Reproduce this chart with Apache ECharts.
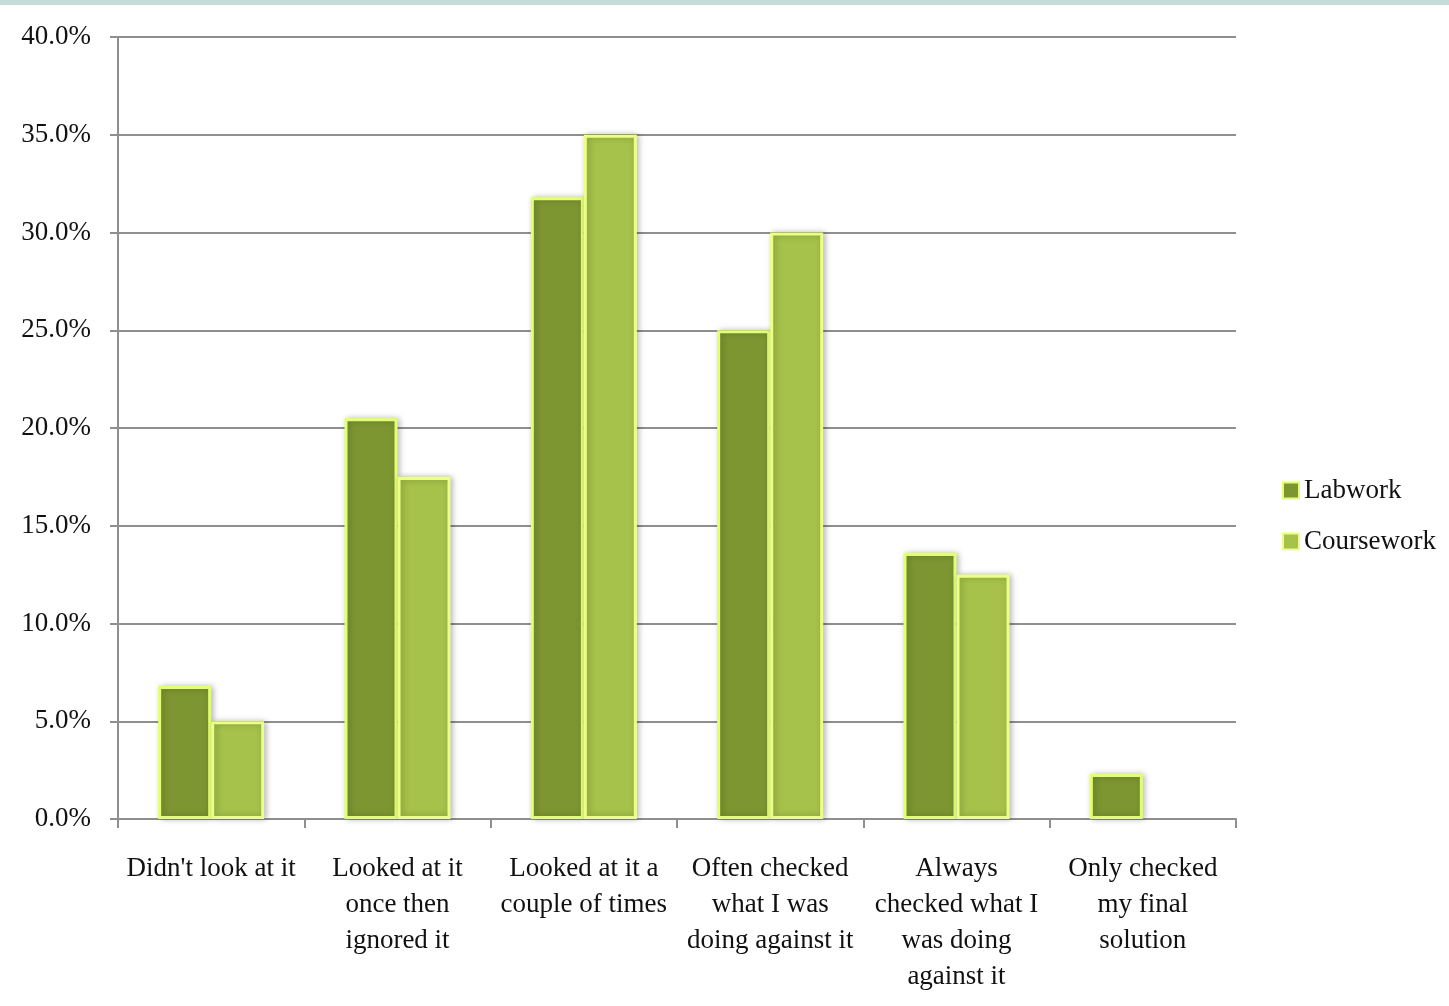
<!DOCTYPE html>
<html>
<head>
<meta charset="utf-8">
<script src="https://cdn.jsdelivr.net/npm/echarts@6/dist/echarts.min.js"></script>
<style>
  html, body { margin: 0; padding: 0; background: #fff; }
  .topband { position: absolute; left: 0; top: 0; width: 1449px; height: 5px; background: #c6dcdb; }
  #chart { width: 1449px; height: 1006px; }
</style>
</head>
<body>
<div class="topband"></div>
<div id="chart"></div>
<script>
var categories = [
  "Didn't look at it",
  'Looked at it\nonce then\nignored it',
  'Looked at it a\ncouple of times',
  'Often checked\nwhat I was\ndoing against it',
  'Always\nchecked what I\nwas doing\nagainst it',
  'Only checked\nmy final\nsolution'
];
var labwork = [6.8, 20.5, 31.8, 25.0, 13.6, 2.3];
var coursework = [5.0, 17.5, 35.0, 30.0, 12.5, 0];

var font = 'Liberation Serif';
var fontSize = 27;
var gridGray = '#8f8f8f';

var chart = echarts.init(document.getElementById('chart'));

function barStyle(fill, edge) {
  return {
    color: fill,
    borderColor: edge,
    borderWidth: 3,
    shadowColor: 'rgba(0,0,0,0.25)',
    shadowBlur: 6,
    shadowOffsetX: 2
  };
}

// zero-height bars should not leave a visible border line
function toItems(values) {
  return values.map(function (v) {
    return v === 0 ? { value: v, itemStyle: { borderWidth: 0, shadowBlur: 0 } } : v;
  });
}

var option = {
  animation: false,
  textStyle: { fontFamily: font, color: '#111' },
  grid: { left: 118, right: 213, top: 37, bottom: 187 },
  legend: {
    orient: 'vertical',
    left: 1277,
    top: 472,
    itemWidth: 16,
    itemHeight: 16,
    itemGap: 24,
    icon: 'rect',
    textStyle: { fontFamily: font, fontSize: fontSize, color: '#111', padding: [0, 0, 0, 0] },
    data: ['Labwork', 'Coursework']
  },
  xAxis: {
    type: 'category',
    data: categories,
    axisLine: { lineStyle: { color: gridGray, width: 2 } },
    axisTick: { show: true, length: 9, lineStyle: { color: gridGray, width: 2 } },
    axisLabel: {
      interval: 0,
      margin: 32,
      fontFamily: font,
      fontSize: fontSize,
      lineHeight: 36,
      color: '#111'
    }
  },
  yAxis: {
    type: 'value',
    min: 0,
    max: 40,
    interval: 5,
    axisLine: { show: true, lineStyle: { color: gridGray, width: 2 } },
    axisTick: { show: true, length: 8, lineStyle: { color: gridGray, width: 2 } },
    splitLine: { lineStyle: { color: gridGray, width: 2 } },
    axisLabel: {
      margin: 27,
      fontFamily: font,
      fontSize: fontSize,
      color: '#111',
      formatter: function (v) { return v.toFixed(1) + '%'; }
    }
  },
  series: [
    {
      name: 'Labwork',
      type: 'bar',
      data: toItems(labwork),
      barWidth: 53,
      barGap: '0%',
      itemStyle: barStyle('#7d9631', '#e2ff74')
    },
    {
      name: 'Coursework',
      type: 'bar',
      data: toItems(coursework),
      barWidth: 53,
      itemStyle: barStyle('#a6c24a', '#ecff86')
    }
  ]
};

chart.setOption(option);
</script>
</body>
</html>
